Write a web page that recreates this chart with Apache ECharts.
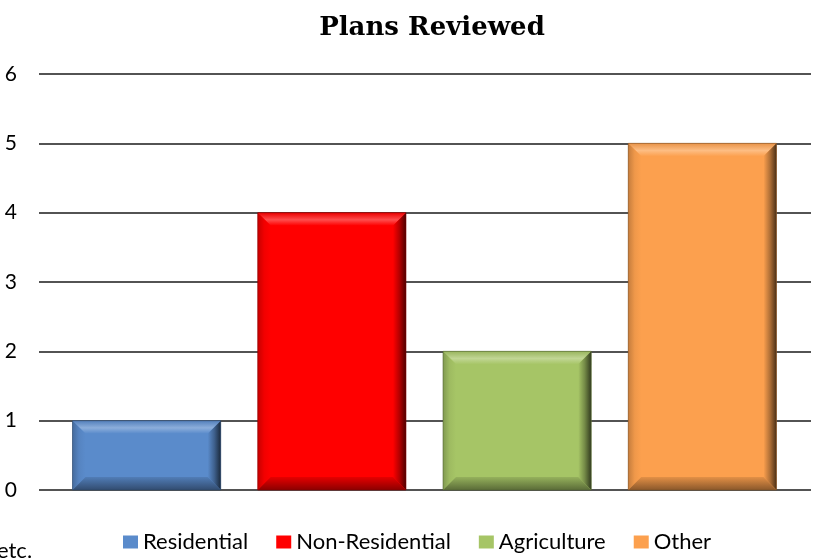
<!DOCTYPE html>
<html>
<head>
<meta charset="utf-8">
<title>Plans Reviewed</title>
<script src="https://cdn.jsdelivr.net/npm/echarts@6/dist/echarts.min.js"></script>
<style>
  html, body { margin: 0; padding: 0; background: #fff; }
  #chart { width: 813px; height: 560px; }
</style>
</head>
<body>
<div id="chart"></div>
<script>
  // data
  const categories = ['Residential', 'Non-Residential', 'Agriculture', 'Other'];
  const values = [1, 4, 2, 5];
  const yTicks = [0, 1, 2, 3, 4, 5, 6];

  const palette = ['#5A8BCB', '#FF0000', '#A6C566', '#FCA04E'];
  const uiFont = 'Lato';

  // mix a hex colour toward white (t>0) or black (t<0)
  function tone (hex, t) {
    let n = parseInt(hex.slice(1), 16);
    let rgb = [(n >> 16) & 255, (n >> 8) & 255, n & 255];
    rgb = rgb.map(c => Math.round(t >= 0 ? c + (255 - c) * t : c * (1 + t)));
    return 'rgb(' + rgb.join(',') + ')';
  }

  function grad (vertical, stops) {
    return {
      type: 'linear', x: 0, y: 0, x2: vertical ? 0 : 1, y2: vertical ? 1 : 0,
      colorStops: stops.map(s => ({offset: s[0], color: s[1]}))
    };
  }

  // bevelled bar, positioned by the axis scales
  function bevelBar (params, api) {
    const c = palette[params.seriesIndex];
    const top = api.coord([api.value(0), api.value(1)]);
    const base = api.coord([api.value(0), 0]);
    const bw = api.size([1, 0])[0] * 0.8;
    const x0 = top[0] - bw / 2, x1 = top[0] + bw / 2;
    const y0 = top[1], y1 = base[1];
    const b = Math.min(13, (y1 - y0) / 2, bw / 2);
    return {
      type: 'group',
      children: [
        {type: 'rect', shape: {x: x0, y: y0, width: bw, height: y1 - y0}, style: {fill: c}},
        {type: 'polygon', shape: {points: [[x0, y0], [x1, y0], [x1 - b, y0 + b], [x0 + b, y0 + b]]},
          style: {fill: grad(true, [[0, tone(c, -0.08)], [0.55, tone(c, 0.3)], [1, c]])}},
        {type: 'polygon', shape: {points: [[x0, y0], [x0 + b, y0 + b], [x0 + b, y1 - b], [x0, y1]]},
          style: {fill: grad(false, [[0, tone(c, -0.22)], [0.5, tone(c, -0.05)], [1, c]])}},
        {type: 'polygon', shape: {points: [[x1 - b, y0 + b], [x1, y0], [x1, y1], [x1 - b, y1 - b]]},
          style: {fill: grad(false, [[0, c], [0.5, tone(c, -0.3)], [1, tone(c, -0.7)]])}},
        {type: 'polygon', shape: {points: [[x0 + b, y1 - b], [x1 - b, y1 - b], [x1, y1], [x0, y1]]},
          style: {fill: grad(true, [[0, tone(c, -0.1)], [1, tone(c, -0.45)]])}},
        {type: 'rect', shape: {x: x0, y: y0, width: bw, height: y1 - y0},
          style: {fill: 'none', stroke: tone(c, -0.5), lineWidth: 0.6}}
      ]
    };
  }

  const myChart = echarts.init(document.getElementById('chart'));

  const option = {
    animation: false,
    grid: [
      {left: 39, right: 2, top: 74, bottom: 70},   // gridlines + labels
      {left: 54, right: 18, top: 74, bottom: 70}   // bars
    ],
    xAxis: [
      {gridIndex: 0, type: 'category', data: categories, show: false},
      {gridIndex: 1, type: 'category', data: categories, show: false}
    ],
    yAxis: [
      {
        gridIndex: 0, type: 'value', min: yTicks[0], max: yTicks[yTicks.length - 1], interval: 1,
        axisLine: {show: false},
        axisTick: {show: false},
        axisLabel: {margin: 22, color: '#000', fontFamily: uiFont, fontSize: 21},
        splitLine: {lineStyle: {color: '#1a1a1a', width: 1.6}}
      },
      {gridIndex: 1, type: 'value', min: 0, max: 6, show: false}
    ],
    legend: {
      left: 118, top: 526,
      itemWidth: 15, itemHeight: 13, itemGap: 28,
      icon: 'rect',
      textStyle: {fontFamily: uiFont, fontSize: 22, color: '#000'},
      data: categories
    },
    graphic: [
      {type: 'text', x: 432, y: 28, style: {text: 'Plans Reviewed', fill: '#000',
        font: 'bold 26px "DejaVu Serif"', textAlign: 'center', textVerticalAlign: 'middle'}},
      {type: 'text', x: -3, y: 551, style: {text: 'etc.', fill: '#000',
        font: '22px ' + uiFont, textVerticalAlign: 'middle'}}
    ],
    series: categories.map((name, i) => ({
      name: name,
      type: 'custom',
      xAxisIndex: 1,
      yAxisIndex: 1,
      itemStyle: {color: palette[i]},
      renderItem: bevelBar,
      encode: {x: 0, y: 1},
      data: [[i, values[i]]]
    }))
  };

  myChart.setOption(option);
</script>
</body>
</html>
